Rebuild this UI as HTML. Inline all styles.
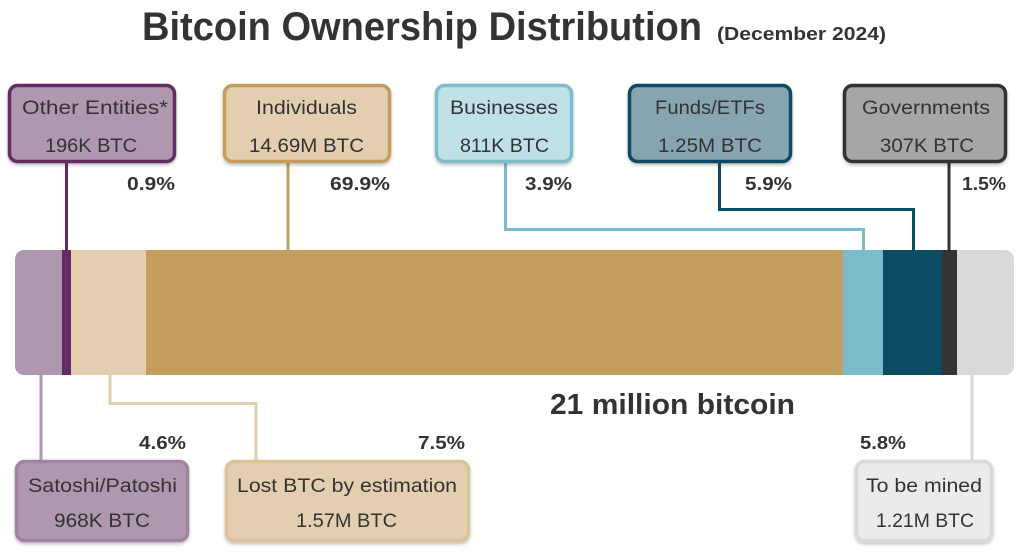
<!DOCTYPE html>
<html>
<head>
<meta charset="utf-8">
<style>
  html,body{margin:0;padding:0;background:#fff;}
  svg{display:block;}
  text{font-family:"Liberation Sans",Arial,sans-serif;fill:#333;}
  .bt{font-size:19px;}
  .pc{font-size:18px;font-weight:bold;}
</style>
</head>
<body>
<svg width="1024" height="552" viewBox="0 0 1024 552" xmlns="http://www.w3.org/2000/svg">
  <defs>
    <filter id="sh" x="-10%" y="-10%" width="120%" height="130%">
      <feDropShadow dx="0" dy="2" stdDeviation="1.5" flood-color="#000" flood-opacity="0.25"/>
    </filter>
    <clipPath id="barclip">
      <rect x="15" y="250" width="999" height="125" rx="9" ry="9"/>
    </clipPath>
  </defs>

  <!-- Title -->
  <text x="142" y="40" font-size="40" font-weight="bold" textLength="560" lengthAdjust="spacingAndGlyphs">Bitcoin Ownership Distribution</text>
  <text x="717" y="40" font-size="18" font-weight="bold" textLength="169" lengthAdjust="spacingAndGlyphs">(December 2024)</text>

  <!-- Connector lines (top) -->
  <g fill="none" stroke-width="3">
    <path d="M66.5 162 V252" stroke="#622d62"/>
    <path d="M288 162 V252" stroke="#c39e5f"/>
    <path d="M505.5 162 V229.5 H863.5 V252" stroke="#7bbccc"/>
    <path d="M719.5 162 V209.5 H913.5 V252" stroke="#0c4c63"/>
    <path d="M949 162 V252" stroke="#333333"/>
    <!-- bottom -->
    <path d="M41 372 V462" stroke="#b097b0"/>
    <path d="M110 372 V403.5 H256 V462" stroke="#e3cfb0"/>
    <path d="M972 372 V462" stroke="#d9d9d9"/>
  </g>

  <!-- Bar -->
  <g clip-path="url(#barclip)">
    <rect x="15" y="250" width="47" height="125" fill="#b097b0"/>
    <rect x="62" y="250" width="9" height="125" fill="#622d62"/>
    <rect x="71" y="250" width="75" height="125" fill="#e3cfb0"/>
    <rect x="146" y="250" width="697" height="125" fill="#c39e5f"/>
    <rect x="843" y="250" width="40" height="125" fill="#7bbccc"/>
    <rect x="883" y="250" width="59" height="125" fill="#0c4c63"/>
    <rect x="942" y="250" width="15" height="125" fill="#333333"/>
    <rect x="957" y="250" width="57" height="125" fill="#d9d9d9"/>
  </g>

  <!-- Top boxes -->
  <g filter="url(#sh)" stroke-width="3.5">
    <rect x="9.5" y="85.5" width="165" height="76" rx="8" fill="#b097b0" stroke="#622d62"/>
    <rect x="224.5" y="85.5" width="165" height="76" rx="8" fill="#e3cfb0" stroke="#c39e5f"/>
    <rect x="436.5" y="85.5" width="135" height="76" rx="8" fill="#c0e0e8" stroke="#7bbccc"/>
    <rect x="629.5" y="85.5" width="161" height="76" rx="8" fill="#86a5b1" stroke="#0c4c63"/>
    <rect x="844.5" y="85.5" width="161" height="76" rx="8" fill="#a6a6a6" stroke="#333333"/>
    <!-- Bottom boxes -->
    <rect x="16.5" y="461.5" width="171" height="79" rx="8" fill="#b097b0" stroke="#a383a3"/>
    <rect x="226.5" y="461.5" width="242" height="79" rx="8" fill="#e3cfb0" stroke="#dbc49d"/>
    <rect x="856.5" y="461.5" width="135" height="79" rx="8" fill="#ebebeb" stroke="#d9d9d9"/>
  </g>

  <!-- Box texts -->
  <g class="bt" text-anchor="middle">
    <text class="bt" x="95" y="114" textLength="146" lengthAdjust="spacingAndGlyphs">Other Entities*</text>
    <text class="bt" x="91" y="152" textLength="92" lengthAdjust="spacingAndGlyphs">196K BTC</text>

    <text class="bt" x="306.5" y="114" textLength="101" lengthAdjust="spacingAndGlyphs">Individuals</text>
    <text class="bt" x="306.5" y="152" textLength="115" lengthAdjust="spacingAndGlyphs">14.69M BTC</text>

    <text class="bt" x="504" y="114" textLength="108" lengthAdjust="spacingAndGlyphs">Businesses</text>
    <text class="bt" x="504.5" y="152" textLength="89" lengthAdjust="spacingAndGlyphs">811K BTC</text>

    <text class="bt" x="710" y="114" textLength="110" lengthAdjust="spacingAndGlyphs">Funds/ETFs</text>
    <text class="bt" x="710" y="152" textLength="104" lengthAdjust="spacingAndGlyphs">1.25M BTC</text>

    <text class="bt" x="926" y="114" textLength="128" lengthAdjust="spacingAndGlyphs">Governments</text>
    <text class="bt" x="927" y="152" textLength="94" lengthAdjust="spacingAndGlyphs">307K BTC</text>

    <text class="bt" x="102.5" y="492" textLength="149" lengthAdjust="spacingAndGlyphs">Satoshi/Patoshi</text>
    <text class="bt" x="102" y="527" textLength="96" lengthAdjust="spacingAndGlyphs">968K BTC</text>

    <text class="bt" x="347" y="492" textLength="220" lengthAdjust="spacingAndGlyphs">Lost BTC by estimation</text>
    <text class="bt" x="346.5" y="527" textLength="101" lengthAdjust="spacingAndGlyphs">1.57M BTC</text>

    <text class="bt" x="924" y="492" textLength="116" lengthAdjust="spacingAndGlyphs">To be mined</text>
    <text class="bt" x="925" y="527" textLength="98" lengthAdjust="spacingAndGlyphs">1.21M BTC</text>
  </g>

  <!-- Percentages -->
  <g text-anchor="end">
    <text class="pc" x="175" y="190" textLength="48" lengthAdjust="spacingAndGlyphs">0.9%</text>
    <text class="pc" x="390" y="190" textLength="60" lengthAdjust="spacingAndGlyphs">69.9%</text>
    <text class="pc" x="572" y="190" textLength="47" lengthAdjust="spacingAndGlyphs">3.9%</text>
    <text class="pc" x="792" y="190" textLength="47" lengthAdjust="spacingAndGlyphs">5.9%</text>
    <text class="pc" x="1006" y="190" textLength="44" lengthAdjust="spacingAndGlyphs">1.5%</text>
    <text class="pc" x="186" y="449" textLength="47" lengthAdjust="spacingAndGlyphs">4.6%</text>
    <text class="pc" x="465" y="449" textLength="47" lengthAdjust="spacingAndGlyphs">7.5%</text>
    <text class="pc" x="906" y="449" textLength="46" lengthAdjust="spacingAndGlyphs">5.8%</text>
  </g>

  <!-- Center label -->
  <text x="550" y="414" font-size="29" font-weight="bold" textLength="245" lengthAdjust="spacingAndGlyphs">21 million bitcoin</text>
</svg>
</body>
</html>
